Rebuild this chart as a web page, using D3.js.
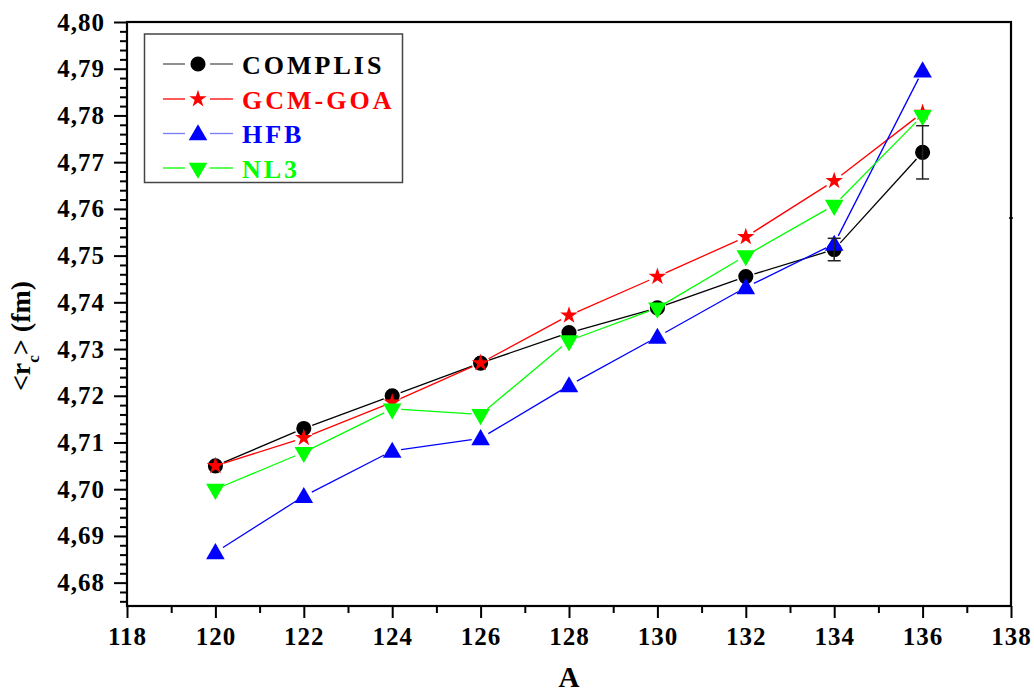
<!DOCTYPE html>
<html>
<head>
<meta charset="utf-8">
<script src="https://cdn.jsdelivr.net/npm/d3@7"></script>
<style>
  html, body { margin: 0; padding: 0; background: #fff; }
  svg { display: block; }
  text { font-family: "Liberation Serif", "Times New Roman", serif; font-weight: bold; }
</style>
</head>
<body>
<svg id="chart" width="1034" height="693"></svg>
<script>
// ---- data ----
const massNumbers = [120, 122, 124, 126, 128, 130, 132, 134, 136];
const complis     = [4.705, 4.713, 4.720, 4.727, 4.7335, 4.7388, 4.7455, 4.7513, 4.7721];
const complisErr  = [0, 0, 0, 0, 0, 0, 0, 0.0024, 0.0057];
const gcmGoa      = [4.705, 4.711, 4.7186, 4.727, 4.7372, 4.7455, 4.754, 4.766, 4.7806];
const hfb         = [4.6865, 4.6985, 4.7082, 4.7109, 4.7222, 4.7326, 4.7432, 4.7525, 4.7896];
const nl3         = [4.700, 4.7079, 4.7172, 4.716, 4.7318, 4.7388, 4.750, 4.7608, 4.780];
const seriesNames = ["COMPLIS", "GCM-GOA", "HFB", "NL3"];
const xTickLabels = [118, 120, 122, 124, 126, 128, 130, 132, 134, 136, 138];
const yTickLabels = ["4,68","4,69","4,70","4,71","4,72","4,73","4,74","4,75","4,76","4,77","4,78","4,79","4,80"];

const seriesValues = [complis, gcmGoa, hfb, nl3];
const seriesColors = ["#000000", "#ff0000", "#0000ff", "#00ff00"];
const legendLineColors = ["#555555", "#ff0000", "#7a7aff", "#00ff00"];
const seriesShapes = ["circle", "star", "triUp", "triDown"];

// ---- layout ----
const svg = d3.select("#chart");
const plotL = 127, plotR = 1011, plotT = 22, plotB = 606;
const x = d3.scaleLinear().domain([118, 138]).range([plotL, plotR]);
const y = d3.scaleLinear().domain([4.675, 4.80]).range([plotB, plotT]);

function symbolPath(shape) {
  if (shape === "circle") return d3.symbol(d3.symbolCircle, 180)();
  if (shape === "star") return d3.symbol(d3.symbolStar, 95)();
  return d3.symbol(d3.symbolTriangle, 150)();
}
function drawMarker(g, shape, cx, cy, color) {
  const p = g.append("path")
    .attr("d", symbolPath(shape))
    .attr("fill", color)
    .attr("stroke", "none");
  if (shape === "triDown") p.attr("transform", `translate(${cx},${cy}) rotate(180)`);
  else if (shape === "triUp") p.attr("transform", `translate(${cx},${cy + 1.5})`);
  else p.attr("transform", `translate(${cx},${cy})`);
}

// ---- series lines (with gaps around markers, Origin style) ----
const gap = 9;
const linesG = svg.append("g");
seriesValues.forEach((vals, si) => {
  for (let i = 0; i < vals.length - 1; i++) {
    const x1 = x(massNumbers[i]), y1 = y(vals[i]);
    const x2 = x(massNumbers[i + 1]), y2 = y(vals[i + 1]);
    const len = Math.hypot(x2 - x1, y2 - y1);
    if (len <= 2 * gap) continue;
    const ux = (x2 - x1) / len, uy = (y2 - y1) / len;
    linesG.append("line")
      .attr("x1", x1 + ux * gap).attr("y1", y1 + uy * gap)
      .attr("x2", x2 - ux * gap).attr("y2", y2 - uy * gap)
      .attr("stroke", seriesColors[si]).attr("stroke-width", 1.3);
  }
});

// ---- markers ----
const markG = svg.append("g");
seriesValues.forEach((vals, si) => {
  vals.forEach((v, i) => drawMarker(markG, seriesShapes[si], x(massNumbers[i]), y(v), seriesColors[si]));
});

// ---- error bars ----
const errG = svg.append("g").attr("stroke", "#222").attr("stroke-width", 1.5);
complis.forEach((v, i) => {
  const e = complisErr[i];
  if (!e) return;
  const cx = x(massNumbers[i]);
  errG.append("line").attr("x1", cx).attr("x2", cx).attr("y1", y(v + e)).attr("y2", y(v - e));
  errG.append("line").attr("x1", cx - 6.5).attr("x2", cx + 6.5).attr("y1", y(v + e)).attr("y2", y(v + e));
  errG.append("line").attr("x1", cx - 6.5).attr("x2", cx + 6.5).attr("y1", y(v - e)).attr("y2", y(v - e));
});

// ---- axes ----
const yMajor = yTickLabels.map(s => +s.replace(",", "."));
const yMinor = d3.range(4.676, 4.8, 0.002).filter(v => Math.abs(v * 100 - Math.round(v * 100)) > 1e-6);
const xMinor = d3.range(119, 138, 2);

const yAxis = svg.append("g").attr("transform", `translate(${plotL},0)`)
  .call(d3.axisLeft(y).tickValues(yMajor).tickSize(13).tickPadding(9)
    .tickFormat((d, i) => yTickLabels[i]));
const yAxisMinor = svg.append("g").attr("transform", `translate(${plotL},0)`)
  .call(d3.axisLeft(y).tickValues(yMinor).tickSize(7).tickFormat(""));
const xAxis = svg.append("g").attr("transform", `translate(0,${plotB})`)
  .call(d3.axisBottom(x).tickValues(xTickLabels).tickSize(12).tickPadding(9)
    .tickFormat(d => String(d)));
const xAxisMinor = svg.append("g").attr("transform", `translate(0,${plotB})`)
  .call(d3.axisBottom(x).tickValues(xMinor).tickSize(7).tickFormat(""));

[yAxis, yAxisMinor, xAxis, xAxisMinor].forEach(g => {
  g.select(".domain").remove();
  g.selectAll(".tick line").attr("stroke", "#000").attr("stroke-width", 2);
  g.selectAll(".tick text").attr("fill", "#000")
    .style("font-family", "'Liberation Serif', 'Times New Roman', serif").style("font-weight", "bold")
    .style("font-size", "25px").style("letter-spacing", "1px");
});
xAxis.selectAll(".tick text").attr("dy", "0.71em");

// frame
svg.append("rect").attr("x", plotL).attr("y", plotT).attr("width", plotR - plotL).attr("height", plotB - plotT)
  .attr("fill", "none").attr("stroke", "#000").attr("stroke-width", 2.2);
// small tick on right axis
svg.append("line").attr("x1", plotR - 2).attr("x2", plotR + 2).attr("y1", 218).attr("y2", 218)
  .attr("stroke", "#000").attr("stroke-width", 1.5);

// ---- axis titles ----
svg.append("text").attr("x", x(128)).attr("y", 687).attr("text-anchor", "middle")
  .style("font-size", "29px").attr("fill", "#000").text("A");

const yt = svg.append("text").attr("transform", "translate(30,336) rotate(-90)")
  .attr("text-anchor", "middle").style("font-size", "28px").attr("fill", "#000");
yt.append("tspan").text("<r");
yt.append("tspan").attr("dy", 9).style("font-size", "17px").text("c");
yt.append("tspan").attr("dy", -9).text(">");
yt.append("tspan").text(" (fm)");

// ---- legend ----
const lg = svg.append("g");
lg.append("rect").attr("x", 144.5).attr("y", 34).attr("width", 258).attr("height", 148.5)
  .attr("fill", "#fff").attr("stroke", "#444").attr("stroke-width", 1.5);
const rowY = [64, 99, 133.5, 168];
seriesNames.forEach((name, i) => {
  const cy = rowY[i];
  lg.append("line").attr("x1", 163).attr("x2", 185).attr("y1", cy).attr("y2", cy)
    .attr("stroke", legendLineColors[i]).attr("stroke-width", 1.3);
  lg.append("line").attr("x1", 210).attr("x2", 233).attr("y1", cy).attr("y2", cy)
    .attr("stroke", legendLineColors[i]).attr("stroke-width", 1.3);
  drawMarker(lg, seriesShapes[i], 198, cy, seriesColors[i]);
  lg.append("text").attr("x", 242).attr("y", cy + 9.5)
    .style("font-size", "26px").style("letter-spacing", "3px")
    .attr("fill", seriesColors[i]).text(name);
});
</script>
</body>
</html>
